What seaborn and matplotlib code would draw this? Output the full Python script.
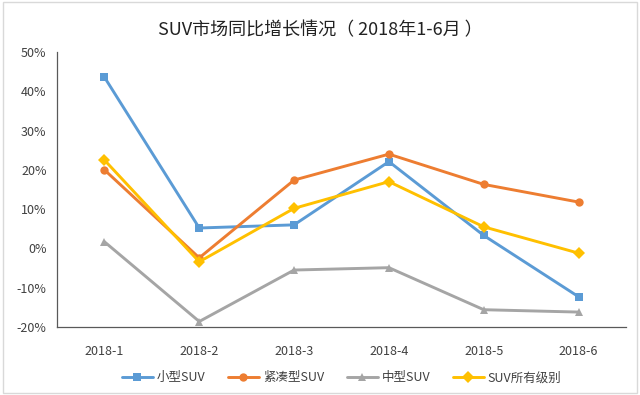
import pandas as pd
import matplotlib
matplotlib.use('Agg')
import matplotlib.pyplot as plt
import seaborn as sns
from matplotlib.ticker import PercentFormatter

months = ['2018-1', '2018-2', '2018-3', '2018-4', '2018-5', '2018-6']
series_names = ['小型SUV', '紧凑型SUV', '中型SUV', 'SUV所有级别']
small_suv = [43.6, 5.2, 6.0, 22.1, 3.3, -12.3]
compact_suv = [20.0, -2.4, 17.4, 24.0, 16.3, 11.8]
mid_suv = [1.7, -18.6, -5.5, -4.9, -15.6, -16.2]
all_suv = [22.5, -3.4, 10.2, 17.0, 5.5, -1.2]

colors = ['#5B9BD5', '#ED7D31', '#A5A5A5', '#FFC000']
markers = ['s', 'o', '^', 'D']

sns.set_theme(style='white')
plt.rcParams['font.family'] = ['Noto Sans CJK SC', 'DejaVu Sans']
plt.rcParams['axes.unicode_minus'] = False

rows = []
for name, vals in zip(series_names, [small_suv, compact_suv, mid_suv, all_suv]):
    for i, v in enumerate(vals):
        rows.append({'month': i, 'series': name, 'value': v})
df = pd.DataFrame(rows)

fig = plt.figure(figsize=(6.4, 3.95), dpi=100)
ax = fig.add_axes([57 / 640, 68 / 395, 569 / 640, 275 / 395])

sns.lineplot(data=df, x='month', y='value', hue='series', style='series',
             hue_order=series_names, style_order=series_names,
             palette=colors, markers=dict(zip(series_names, markers)),
             dashes=False, linewidth=2.1, markersize=6, markeredgewidth=0,
             ax=ax)

ax.set_xlim(-0.5, len(months) - 0.5)
ax.set_ylim(-20, 50)
ax.set_yticks(range(-20, 51, 10))
ax.yaxis.set_major_formatter(PercentFormatter(decimals=0))
ax.set_xticks(range(len(months)))
ax.set_xticklabels(months)
ax.set_xlabel('')
ax.set_ylabel('')
ax.tick_params(axis='both', labelsize=9, colors='#404040', length=4,
               direction='out', width=0.8)
ax.tick_params(axis='x', pad=9)
for s in ['top', 'right']:
    ax.spines[s].set_visible(False)
for s in ['left', 'bottom']:
    ax.spines[s].set_color('#595959')
    ax.spines[s].set_linewidth(0.9)

ax.legend(loc='upper center', bbox_to_anchor=(0.5, -0.12), ncol=4,
          frameon=False, fontsize=9, handlelength=2.5, columnspacing=1.8,
          handletextpad=0.3)
for t in ax.get_legend().get_texts():
    t.set_color('#404040')

fig.text(0.5, 1 - 30 / 395, 'SUV市场同比增长情况（ 2018年1-6月 ）', ha='center',
         va='center', fontsize=13, color='#222222')

border = plt.Rectangle((0.005, 0.005), 0.99, 0.99, transform=fig.transFigure,
                       fill=False, edgecolor='#d9d9d9', linewidth=1)
fig.patches.append(border)

fig.savefig('out.png', dpi=100, facecolor='white')
